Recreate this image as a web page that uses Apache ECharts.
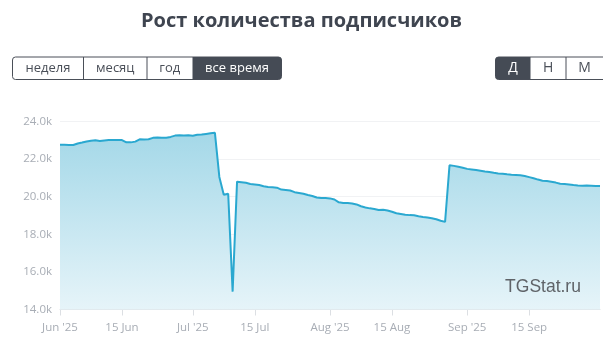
<!DOCTYPE html>
<html><head><meta charset="utf-8">
<script src="https://cdn.jsdelivr.net/npm/echarts@6/dist/echarts.min.js"></script>
<style>html,body{margin:0;padding:0;background:#fff}#c{width:603px;height:347px}</style>
</head><body><div id="c"></div>
<script>
// Daily subscriber counts, starting 1 Jun 2025 (month is 1-based)
const startDate = [2025, 6, 1];
const subscribers = [
22760,22760,22755,22750,22830,22880,22940,22980,23000,22960,
22990,23010,23020,23015,23010,22890,22890,22930,23050,23040,
23060,23130,23150,23140,23140,23180,23250,23270,23260,23270,
23240,23290,23310,23340,23370,23400,21050,20100,20160,14950,
20800,20770,20740,20680,20650,20620,20560,20520,20500,20480,
20380,20360,20330,20240,20200,20160,20090,20040,19960,19930,
19930,19910,19850,19700,19670,19660,19640,19590,19490,19430,
19380,19350,19290,19310,19270,19200,19120,19080,19040,19020,
19010,18960,18920,18890,18850,18800,18720,18660,21670,21640,
21590,21540,21480,21450,21420,21380,21340,21310,21270,21240,
21220,21190,21170,21160,21140,21100,21040,20980,20910,20850,
20830,20800,20750,20690,20670,20650,20620,20600,20585,20590,
20585,20575,20570
];
const monthNames = ['Jan','Feb','Mar','Apr','May','Jun','Jul','Aug','Sep','Oct','Nov','Dec'];
const yTicks = [14000, 24000, 2000];
const periodButtons = ['неделя','месяц','год','все время'];
const scaleButtons = ['Д','Н','М'];
const titleText = 'Рост количества подписчиков';
const watermark = 'TGStat.ru';

const dates = subscribers.map((_, i) => new Date(Date.UTC(startDate[0], startDate[1]-1, startDate[2] + i)));
const cats = dates.map(d => d.toISOString().slice(0,10));
function isTick(i){
  const d = dates[i];
  if (i === dates.length - 1) return false;
  return d.getUTCDate() === 1 || d.getUTCDate() === 15;
}
function fmt(val, i){
  const d = dates[i];
  if (d.getUTCDate() === 1) return monthNames[d.getUTCMonth()] + " '" + String(d.getUTCFullYear()).slice(2);
  return d.getUTCDate() + ' ' + monthNames[d.getUTCMonth()];
}

const chart = echarts.init(document.getElementById('c'), null, {renderer:'canvas'});

const graphics = [];
const pX = [12.5, 83.5, 147, 192.5, 281.5];
const bY = 57, bH = 22.5;
graphics.push({type:'rect', shape:{x:pX[0], y:bY, width:pX[4]-pX[0], height:bH, r:3}, style:{fill:'#fff', stroke:'#4a4f58', lineWidth:1}});
graphics.push({type:'rect', shape:{x:pX[3], y:bY, width:pX[4]-pX[3], height:bH, r:[0,3,3,0]}, style:{fill:'#454b55'}});
for (let i=1;i<3;i++) graphics.push({type:'line', shape:{x1:pX[i], y1:bY, x2:pX[i], y2:bY+bH}, style:{stroke:'#4a4f58', lineWidth:1}});
periodButtons.forEach((t,i)=>{
  graphics.push({type:'text', x:(pX[i]+pX[i+1])/2, y:bY+bH/2, style:{text:t, fill: i===3?'#fff':'#4a4f58', font:'13px "Open Sans", sans-serif', align:'center', verticalAlign:'middle'}});
});
const sX = [495.5, 530.5, 566, 640];
graphics.push({type:'rect', shape:{x:sX[0], y:bY, width:sX[3]-sX[0], height:bH, r:3}, style:{fill:'#fff', stroke:'#4a4f58', lineWidth:1}});
graphics.push({type:'rect', shape:{x:sX[0], y:bY, width:sX[1]-sX[0], height:bH, r:[3,0,0,3]}, style:{fill:'#454b55'}});
graphics.push({type:'line', shape:{x1:sX[2], y1:bY, x2:sX[2], y2:bY+bH}, style:{stroke:'#4a4f58', lineWidth:1}});
scaleButtons.forEach((t,i)=>{
  const cx = i<2 ? (sX[i]+sX[i+1])/2 : 584.5;
  graphics.push({type:'text', x:cx, y:bY+bH/2, style:{text:t, fill: i===0?'#fff':'#4a4f58', font:'14px "Open Sans", sans-serif', align:'center', verticalAlign:'middle'}});
});
graphics.push({type:'text', x:543, y:287, z:100, style:{text:watermark, fill:'#5f6368', font:'17.5px "Liberation Sans", Arial, sans-serif', align:'center', verticalAlign:'middle'}});

chart.setOption({
  animation:false,
  title:{text:titleText, left:'center', top:6, textStyle:{fontFamily:'"Open Sans", sans-serif', fontSize:20, fontWeight:'bold', color:'#3f4550'}},
  grid:{left:60, right:3, top:121.5, bottom:37.5, containLabel:false},
  xAxis:{
    type:'category', data:cats, boundaryGap:false,
    axisLine:{lineStyle:{color:'#dcdfe3'}},
    axisTick:{show:true, interval:(i)=>isTick(i), length:6, lineStyle:{color:'#dcdfe3'}},
    axisLabel:{interval:(i)=>isTick(i), formatter:fmt, color:'#a8adb5', fontSize:11.5, fontFamily:'"Open Sans", sans-serif', margin:12}
  },
  yAxis:{
    type:'value', min:yTicks[0], max:yTicks[1], interval:yTicks[2],
    axisLine:{show:false}, axisTick:{show:false},
    axisLabel:{formatter:(v)=>(v/1000).toFixed(1)+'k', color:'#a8adb5', fontSize:11.5, fontFamily:'"Open Sans", sans-serif', margin:8},
    splitLine:{lineStyle:{color:'#f1f2f4'}}
  },
  series:[{
    type:'line', data:subscribers, showSymbol:false, smooth:false,
    lineStyle:{color:'#2aa8d0', width:2},
    areaStyle:{opacity:1, color:new echarts.graphic.LinearGradient(0,0,0,1,[{offset:0,color:'#a4d8e8'},{offset:1,color:'#e6f4f9'}])}
  }],
  graphic:graphics
});
</script></body></html>
